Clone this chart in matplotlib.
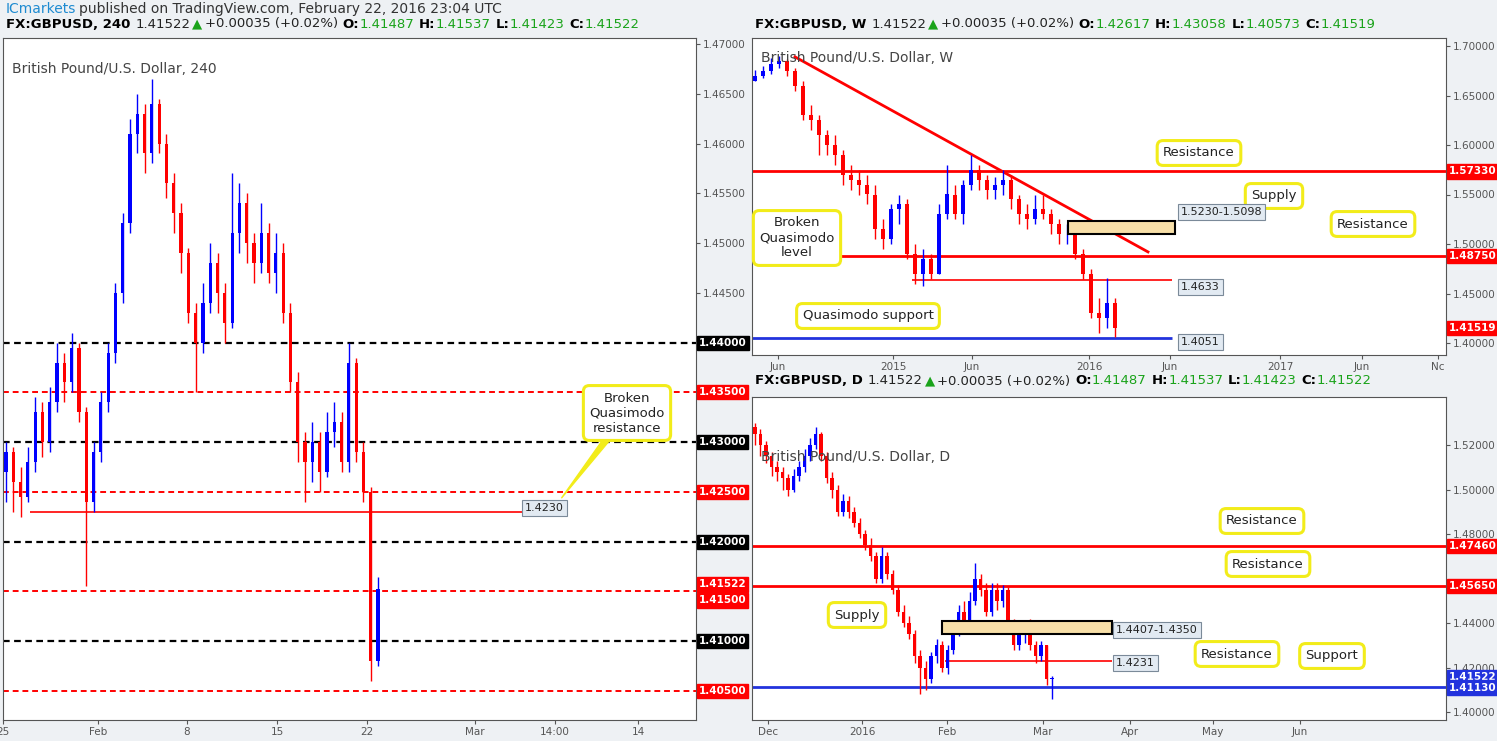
import matplotlib
matplotlib.use("Agg")
import matplotlib.pyplot as plt
from matplotlib.transforms import blended_transform_factory

W, H = 1497, 741
UP, DN = "#0000ff", "#ff0000"
GREEN = "#1aa31a"
NARROW = ["Liberation Sans Narrow", "DejaVu Sans"]

# ---- 240 min data ----
h4_open0 = 1.4270
h4_close = [1.4290, 1.4260, 1.4245, 1.4280, 1.4330, 1.4300, 1.4340, 1.4380, 1.4360, 1.4395,
            1.4330, 1.4240, 1.4290, 1.4340, 1.4390, 1.4450, 1.4520, 1.4610, 1.4630, 1.4590,
            1.4640, 1.4600, 1.4560, 1.4530, 1.4490, 1.4430, 1.4400, 1.4440, 1.4480, 1.4450,
            1.4420, 1.4510, 1.4540, 1.4500, 1.4480, 1.4510, 1.4470, 1.4490, 1.4430, 1.4360,
            1.4300, 1.4280, 1.4300, 1.4270, 1.4310, 1.4320, 1.4280, 1.4380, 1.4290, 1.4250,
            1.4080, 1.4152]
h4_high = [1.4300, 1.4295, 1.4275, 1.4295, 1.4345, 1.4340, 1.4355, 1.4400, 1.4390, 1.4410,
           1.4400, 1.4335, 1.4300, 1.4350, 1.4400, 1.4460, 1.4530, 1.4625, 1.4650, 1.4640,
           1.4665, 1.4645, 1.4610, 1.4570, 1.4540, 1.4495, 1.4440, 1.4460, 1.4500, 1.4490,
           1.4460, 1.4570, 1.4560, 1.4550, 1.4510, 1.4540, 1.4520, 1.4510, 1.4500, 1.4440,
           1.4370, 1.4310, 1.4320, 1.4310, 1.4330, 1.4340, 1.4330, 1.4400, 1.4385, 1.4300,
           1.4255, 1.4165]
h4_low = [1.4240, 1.4230, 1.4225, 1.4240, 1.4270, 1.4285, 1.4290, 1.4330, 1.4340, 1.4350,
          1.4320, 1.4155, 1.4230, 1.4280, 1.4330, 1.4380, 1.4440, 1.4510, 1.4590, 1.4570,
          1.4580, 1.4590, 1.4545, 1.4510, 1.4470, 1.4420, 1.4350, 1.4390, 1.4430, 1.4430,
          1.4400, 1.4415, 1.4490, 1.4480, 1.4460, 1.4470, 1.4460, 1.4450, 1.4420, 1.4350,
          1.4280, 1.4240, 1.4260, 1.4250, 1.4265, 1.4295, 1.4270, 1.4270, 1.4280, 1.4240,
          1.4060, 1.4075]

# ---- weekly data ----
w_open0 = 1.6650
w_close = [1.6700, 1.6750, 1.6820, 1.6850, 1.6750, 1.6600, 1.6300, 1.6250, 1.6100, 1.6000,
           1.5900, 1.5700, 1.5650, 1.5600, 1.5500, 1.5150, 1.5050, 1.5350, 1.5400, 1.4900,
           1.4700, 1.4850, 1.4700, 1.5300, 1.5500, 1.5300, 1.5600, 1.5750, 1.5650, 1.5550,
           1.5600, 1.5650, 1.5450, 1.5300, 1.5250, 1.5350, 1.5300, 1.5200, 1.5100, 1.5100,
           1.4900, 1.4700, 1.4300, 1.4250, 1.4400, 1.4152]
w_high = [1.6760, 1.6800, 1.6880, 1.6900, 1.6870, 1.6780, 1.6650, 1.6400, 1.6300, 1.6150,
          1.6100, 1.5950, 1.5800, 1.5750, 1.5700, 1.5600, 1.5250, 1.5400, 1.5500, 1.5450,
          1.5000, 1.4950, 1.4900, 1.5400, 1.5800, 1.5600, 1.5650, 1.5900, 1.5800, 1.5700,
          1.5680, 1.5750, 1.5700, 1.5500, 1.5400, 1.5500, 1.5500, 1.5350, 1.5250, 1.5200,
          1.5150, 1.4950, 1.4750, 1.4450, 1.4660, 1.4450]
w_low = [1.6650, 1.6680, 1.6720, 1.6780, 1.6700, 1.6550, 1.6250, 1.6150, 1.5900, 1.5900,
         1.5800, 1.5600, 1.5550, 1.5500, 1.5400, 1.5050, 1.4950, 1.5000, 1.5200, 1.4850,
         1.4600, 1.4580, 1.4650, 1.4700, 1.5250, 1.5250, 1.5200, 1.5550, 1.5550, 1.5450,
         1.5450, 1.5500, 1.5350, 1.5200, 1.5150, 1.5200, 1.5250, 1.5100, 1.5000, 1.5000,
         1.4850, 1.4650, 1.4250, 1.4100, 1.4150, 1.4060]

# ---- daily data ----
d_open0 = 1.5280
d_close = [1.5250, 1.5200, 1.5150, 1.5100, 1.5080, 1.5050, 1.5000, 1.5060, 1.5100, 1.5150,
           1.5200, 1.5250, 1.5150, 1.5050, 1.5000, 1.4900, 1.4950, 1.4900, 1.4850, 1.4800,
           1.4750, 1.4700, 1.4600, 1.4700, 1.4620, 1.4550, 1.4450, 1.4400, 1.4350, 1.4250,
           1.4200, 1.4150, 1.4250, 1.4300, 1.4200, 1.4280, 1.4350, 1.4450, 1.4400, 1.4500,
           1.4600, 1.4550, 1.4450, 1.4550, 1.4500, 1.4550, 1.4400, 1.4300, 1.4350, 1.4400,
           1.4300, 1.4250, 1.4300, 1.4150, 1.4152]
d_high = [1.5300, 1.5270, 1.5220, 1.5170, 1.5130, 1.5100, 1.5070, 1.5090, 1.5130, 1.5180,
          1.5230, 1.5280, 1.5260, 1.5170, 1.5080, 1.5020, 1.4980, 1.4970, 1.4920, 1.4870,
          1.4820, 1.4780, 1.4720, 1.4740, 1.4720, 1.4640, 1.4570, 1.4480, 1.4430, 1.4370,
          1.4280, 1.4230, 1.4270, 1.4330, 1.4320, 1.4300, 1.4370, 1.4480, 1.4500, 1.4540,
          1.4670, 1.4620, 1.4580, 1.4580, 1.4580, 1.4570, 1.4560, 1.4420, 1.4380, 1.4410,
          1.4420, 1.4320, 1.4320, 1.4300, 1.4160]
d_low = [1.5200, 1.5150, 1.5120, 1.5060, 1.5040, 1.5000, 1.4970, 1.4990, 1.5040, 1.5080,
         1.5130, 1.5180, 1.5130, 1.5030, 1.4960, 1.4880, 1.4880, 1.4870, 1.4830, 1.4780,
         1.4730, 1.4680, 1.4580, 1.4580, 1.4600, 1.4530, 1.4430, 1.4380, 1.4330, 1.4220,
         1.4080, 1.4100, 1.4130, 1.4220, 1.4180, 1.4170, 1.4260, 1.4340, 1.4370, 1.4390,
         1.4480, 1.4520, 1.4430, 1.4430, 1.4460, 1.4470, 1.4380, 1.4280, 1.4280, 1.4310,
         1.4280, 1.4220, 1.4230, 1.4120, 1.4060]

h4_xticks = ["25", "Feb", "8", "15", "22", "Mar", "14:00", "14"]
w_xticks = ["Jun", "2015", "Jun", "2016", "Jun", "2017", "Jun", "Nc"]
d_xticks = ["Dec", "2016", "Feb", "Mar", "Apr", "May", "Jun"]

fig = plt.figure(figsize=(W / 100, H / 100), dpi=100)
fig.patch.set_facecolor("#eef1f4")


def make_axes(x0, x1, y0, y1, p_a, py_a, p_b, py_b):
    ax = fig.add_axes([x0 / W, 1 - y1 / H, (x1 - x0) / W, (y1 - y0) / H])
    s = (p_a - p_b) / (py_b - py_a)
    ax.set_xlim(x0, x1)
    ax.set_ylim(p_b - (y1 - py_b) * s, p_a + (py_a - y0) * s)
    ax.set_facecolor("white")
    for sp in ax.spines.values():
        sp.set_color("#555555")
    ax.yaxis.tick_right()
    ax.tick_params(axis="both", labelsize=7.5, colors="#555555", length=3, pad=2)
    return ax


def candles(ax, x0, x1, open0, close, high, low, width):
    n = len(close)
    step = (x1 - x0) / (n - 1)
    prev = open0
    for i, c in enumerate(close):
        x = x0 + i * step
        o = prev
        col = UP if c >= o else DN
        ax.vlines(x, min(low[i], o, c), max(high[i], o, c), color=col, lw=1, zorder=3)
        ax.bar(x, c - o if c != o else 0.0002, bottom=o, width=width, color=col, zorder=3)
        prev = c


def tag(ax, price, txt, color):
    tr = blended_transform_factory(ax.transAxes, ax.transData)
    ax.text(1.004, price, txt, transform=tr, fontsize=7.5, color="white", va="center",
            fontweight="bold", bbox=dict(boxstyle="square,pad=0.2", fc=color, ec=color), zorder=10)


def valbox(x, y, txt):
    fig.text(x / W, 1 - y / H, txt, fontsize=8, va="center", color="#222222", zorder=25,
             bbox=dict(boxstyle="square,pad=0.25", fc="#e2eaf2", ec="#7b8a99", lw=0.8))


def callout(txt, bx, by, tx, ty):
    fig.text(bx / W, 1 - by / H, txt, fontsize=9.5, ha="center", va="center", color="#222222",
             bbox=dict(boxstyle="round,pad=0.45", fc="white", ec="#f2ec1a", lw=2.2), zorder=20)
    ax_l.annotate("", xy=(tx, H - ty), xycoords="figure pixels", xytext=(bx, H - by),
                  textcoords="figure pixels",
                  arrowprops=dict(arrowstyle="wedge,tail_width=0.6", fc="#f2ec1a", ec="#f2ec1a"),
                  zorder=5, annotation_clip=False)


renderer = fig.canvas.get_renderer()


def run_text(x, y, parts, size=9.5):
    # lay out pieces of text one after another, measuring each
    px = x
    for txt, color, bold, gap in parts:
        t = fig.text(px / W, 1 - y / H, txt, fontsize=size, color=color, va="center",
                     fontweight="bold" if bold else "normal", family=NARROW)
        px += t.get_window_extent(renderer).width + gap


def header(x, y, tf, vals):
    parts = [("FX:GBPUSD, " + tf, "black", True, 5), ("1.41522", "#222222", False, 2),
             ("▲", GREEN, False, 2), ("+0.00035 (+0.02%)", "#222222", False, 5)]
    for lab, v in zip(["O:", "H:", "L:", "C:"], vals):
        parts += [(lab, "black", True, 0), (v, GREEN, False, 5)]
    run_text(x, y, parts)


# ================= left 240 panel =================
ax_l = make_axes(3, 696, 38, 720, 1.47, 44, 1.405, 691)
ax_l.set_yticks([1.47, 1.465, 1.46, 1.455, 1.45, 1.445])
ax_l.set_yticklabels(["1.47000", "1.46500", "1.46000", "1.45500", "1.45000", "1.44500"])
ax_l.set_xticks([3, 98, 187, 277, 367, 475, 555, 638])
ax_l.set_xticklabels(h4_xticks)
for p in [1.44, 1.43, 1.42, 1.41]:
    ax_l.axhline(p, color="black", ls=(0, (3, 2)), lw=1.6, zorder=2)
for p in [1.435, 1.425, 1.415, 1.405]:
    ax_l.axhline(p, color="red", ls=(0, (3, 2)), lw=1.4, zorder=2)
ax_l.hlines(1.4230, 30, 522, color="red", lw=1.2, zorder=2)
candles(ax_l, 6, 378, h4_open0, h4_close, h4_high, h4_low, 3.2)
ax_l.text(12, 1.4675, "British Pound/U.S. Dollar, 240", fontsize=10, color="#444444", va="center")
for p, t, c in [(1.44, "1.44000", "black"), (1.435, "1.43500", DN), (1.43, "1.43000", "black"),
                (1.425, "1.42500", DN), (1.42, "1.42000", "black"), (1.4157, "1.41522", DN),
                (1.4141, "1.41500", DN), (1.41, "1.41000", "black"), (1.405, "1.40500", DN)]:
    tag(ax_l, p, t, c)
valbox(525, 508, "1.4230")

# ================= weekly panel =================
ax_w = make_axes(752, 1446, 38, 355, 1.70, 46, 1.40, 343)
ax_w.set_yticks([1.70, 1.65, 1.60, 1.55, 1.50, 1.45, 1.40])
ax_w.set_yticklabels(["1.70000", "1.65000", "1.60000", "1.55000", "1.50000", "1.45000", "1.40000"])
ax_w.set_xticks([778, 893, 972, 1089, 1170, 1280, 1362, 1438])
ax_w.set_xticklabels(w_xticks)
ax_w.axhline(1.5733, color="red", lw=2, zorder=2)
ax_w.axhline(1.4875, color="red", lw=2, zorder=2)
ax_w.hlines(1.4633, 912, 1172, color="red", lw=1.2, zorder=2)
ax_w.hlines(1.4051, 752, 1172, color="#2233dd", lw=2, zorder=2)
ax_w.plot([795, 1148], [1.689, 1.492], color="red", lw=2, zorder=2)
ax_w.add_patch(plt.Rectangle((1068, 1.5098), 107, 0.0132, fc="#f7dfa8", ec="black", lw=1.5, zorder=4))
candles(ax_w, 755, 1115, w_open0, w_close, w_high, w_low, 3.5)
ax_w.text(761, 1.6875, "British Pound/U.S. Dollar, W", fontsize=10, color="#444444", va="center")
tag(ax_w, 1.5733, "1.57330", DN)
tag(ax_w, 1.4875, "1.48750", DN)
tag(ax_w, 1.41519, "1.41519", DN)
valbox(1181, 212, "1.5230-1.5098")
valbox(1181, 287, "1.4633")
valbox(1181, 342, "1.4051")

# ================= daily panel =================
ax_d = make_axes(752, 1446, 397, 720, 1.52, 445, 1.40, 712)
ax_d.set_yticks([1.52, 1.50, 1.48, 1.44, 1.42, 1.40])
ax_d.set_yticklabels(["1.52000", "1.50000", "1.48000", "1.44000", "1.42000", "1.40000"])
ax_d.set_xticks([768, 862, 947, 1043, 1130, 1213, 1300])
ax_d.set_xticklabels(d_xticks)
ax_d.axhline(1.4746, color="red", lw=2, zorder=2)
ax_d.axhline(1.4565, color="red", lw=2, zorder=2)
ax_d.hlines(1.4231, 945, 1112, color="red", lw=1.2, zorder=2)
ax_d.axhline(1.4113, color="#2233dd", lw=2, zorder=2)
ax_d.add_patch(plt.Rectangle((942, 1.4350), 170, 0.0057, fc="#f7dfa8", ec="black", lw=1.5, zorder=4))
candles(ax_d, 755, 1052, d_open0, d_close, d_high, d_low, 3.2)
ax_d.text(761, 1.5145, "British Pound/U.S. Dollar, D", fontsize=10, color="#444444", va="center")
tag(ax_d, 1.4746, "1.47460", DN)
tag(ax_d, 1.4565, "1.45650", DN)
tag(ax_d, 1.4159, "1.41522", "#2233dd")
tag(ax_d, 1.4110, "1.41130", "#2233dd")
valbox(1116, 630, "1.4407-1.4350")
valbox(1116, 663, "1.4231")

# ================= callouts =================
callout("Broken\nQuasimodo\nresistance", 627, 413, 560, 500)
callout("Resistance", 1199, 153, 1200, 186)
callout("Supply", 1274, 196, 1240, 226)
callout("Resistance", 1373, 224, 1290, 262)
callout("Broken\nQuasimodo\nlevel", 797, 238, 912, 286)
callout("Quasimodo support", 868, 316, 990, 336)
callout("Resistance", 1262, 521, 1265, 547)
callout("Resistance", 1268, 564, 1265, 590)
callout("Supply", 857, 615, 945, 625)
callout("Resistance", 1237, 654, 1172, 664)
callout("Support", 1332, 656, 1330, 689)

# ================= header texts =================
run_text(6, 9, [("ICmarkets", "#1e8bd1", False, 3),
                ("published on TradingView.com, February 22, 2016 23:04 UTC", "#333333", False, 0)],
         size=10)
header(6, 24, "240", ["1.41487", "1.41537", "1.41423", "1.41522"])
header(755, 24, "W", ["1.42617", "1.43058", "1.40573", "1.41519"])
header(755, 381, "D", ["1.41487", "1.41537", "1.41423", "1.41522"])

plt.savefig("out.png", dpi=100, facecolor=fig.get_facecolor())
